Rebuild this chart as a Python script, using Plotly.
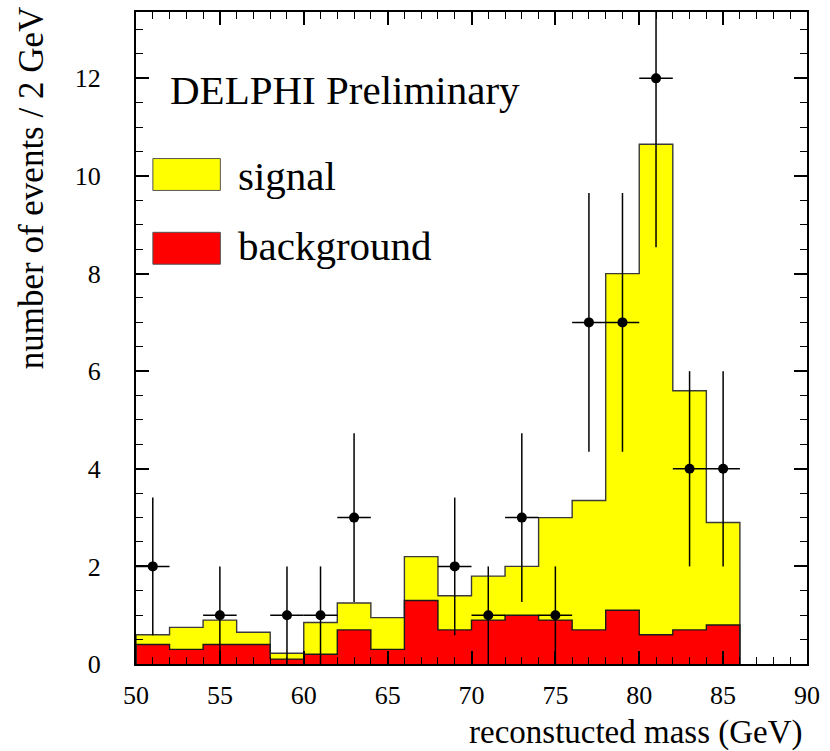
import plotly.graph_objects as go

# ---- data ----
bin_low_edges = [50, 52, 54, 56, 58, 60, 62, 64, 66, 68, 70, 72, 74, 76, 78, 80, 82, 84]
bin_centers = [51, 53, 55, 57, 59, 61, 63, 65, 67, 69, 71, 73, 75, 77, 79, 81, 83, 85]
last_edge = 86
# stacked height (signal + background) and background alone
total_height = [0.6, 0.75, 0.9, 0.65, 0.22, 0.85, 1.25, 0.95, 2.2, 1.4, 1.8, 2.0, 3.0, 3.35, 8.0, 10.65, 5.6, 2.9]
background = [0.4, 0.3, 0.4, 0.4, 0.1, 0.2, 0.7, 0.3, 1.3, 0.7, 0.9, 1.0, 0.9, 0.7, 1.1, 0.6, 0.7, 0.8]

data_x = [51, 55, 59, 61, 63, 69, 71, 73, 75, 77, 79, 81, 83, 85]
data_y = [2, 1, 1, 1, 3, 2, 1, 3, 1, 7, 7, 12, 4, 4]
data_err = [1.41, 1, 1, 1, 1.73, 1.41, 1, 1.73, 1, 2.65, 2.65, 3.46, 2, 2]

x_tick_vals = [50, 55, 60, 65, 70, 75, 80, 85, 90]
y_tick_vals = [0, 2, 4, 6, 8, 10, 12]

FONT = "Liberation Serif, Times New Roman, Times, serif"

fig = go.Figure()

fig.add_trace(go.Bar(x=bin_centers, y=total_height, width=2,
                     marker=dict(color="#ffff00", line=dict(width=0)),
                     showlegend=False, hoverinfo="skip"))
fig.add_trace(go.Bar(x=bin_centers, y=background, width=2,
                     marker=dict(color="#ff0000", line=dict(width=0)),
                     showlegend=False, hoverinfo="skip"))

# step outlines
step_x = [bin_low_edges[0]] + bin_low_edges + [last_edge]
for vals, col in ((total_height, "#3a3a3a"), (background, "#1a1a1a")):
    fig.add_trace(go.Scatter(x=step_x, y=[0] + vals + [0], mode="lines",
                             line=dict(shape="hv", color=col, width=1.4),
                             showlegend=False, hoverinfo="skip"))

# data points
fig.add_trace(go.Scatter(
    x=data_x, y=data_y, mode="markers",
    marker=dict(color="black", size=10, symbol="circle"),
    error_x=dict(type="constant", value=1, color="black", thickness=1.5, width=0),
    error_y=dict(type="data", array=data_err, color="black", thickness=1.5, width=0),
    showlegend=False))

# legend boxes (drawn as shapes)
shapes = [
    dict(type="rect", xref="paper", yref="paper",
         x0=(153 - 136) / 676, x1=(221 - 136) / 676,
         y0=(664 - 189) / 654, y1=(664 - 157) / 654,
         fillcolor="#ffff00", line=dict(color="#555555", width=1)),
    dict(type="rect", xref="paper", yref="paper",
         x0=(153 - 136) / 676, x1=(221 - 136) / 676,
         y0=(664 - 263) / 654, y1=(664 - 231) / 654,
         fillcolor="#ff0000", line=dict(color="#555555", width=1)),
]

annotations = [
    dict(text="DELPHI Preliminary", xref="paper", yref="paper",
         x=(168 - 136) / 676, y=(664 - 88) / 654, xanchor="left", yanchor="middle",
         showarrow=False, font=dict(family=FONT, size=41, color="black")),
    dict(text="signal", xref="paper", yref="paper",
         x=(237 - 136) / 676, y=(664 - 175) / 654, xanchor="left", yanchor="middle",
         showarrow=False, font=dict(family=FONT, size=41, color="black")),
    dict(text="background", xref="paper", yref="paper",
         x=(237 - 136) / 676, y=(664 - 245) / 654, xanchor="left", yanchor="middle",
         showarrow=False, font=dict(family=FONT, size=41, color="black")),
    dict(text="reconstucted mass (GeV)", xref="paper", yref="paper",
         x=(810 - 136) / 676, y=(664 - 733) / 654, xanchor="right", yanchor="middle",
         showarrow=False, font=dict(family=FONT, size=33, color="black")),
    dict(text="number of events / 2 GeV", xref="paper", yref="paper",
         x=(31 - 136) / 676, y=(664 - 186) / 654, xanchor="center", yanchor="middle",
         textangle=-90, showarrow=False, font=dict(family=FONT, size=35, color="black")),
]

fig.update_layout(
    width=830, height=751,
    margin=dict(l=136, r=18, t=10, b=87),
    paper_bgcolor="white", plot_bgcolor="white",
    barmode="overlay", bargap=0,
    shapes=shapes, annotations=annotations,
    font=dict(family=FONT, color="black"),
    xaxis=dict(range=[50, 90], tickvals=x_tick_vals, ticks="inside", ticklen=13, tickwidth=1.5,
               tickcolor="black", showline=True, linecolor="black", linewidth=2, mirror="ticks",
               showgrid=False, zeroline=False, tickfont=dict(family=FONT, size=26),
               ticklabelstandoff=7,
               minor=dict(dtick=1, ticks="inside", ticklen=7, tickwidth=1.3, tickcolor="black",
                          showgrid=False)),
    yaxis=dict(range=[0, 13.36], tickvals=y_tick_vals, ticks="inside", ticklen=13, tickwidth=1.5,
               tickcolor="black", showline=True, linecolor="black", linewidth=2, mirror="ticks",
               showgrid=False, zeroline=False, tickfont=dict(family=FONT, size=26),
               ticklabelstandoff=28,
               minor=dict(dtick=0.5, tick0=0, ticks="inside", ticklen=7, tickwidth=1.3,
                          tickcolor="black", showgrid=False)),
)

fig.write_html("out.html", config={"displayModeBar": False},
               post_script="document.body.style.margin='0';document.body.style.padding='0';")
